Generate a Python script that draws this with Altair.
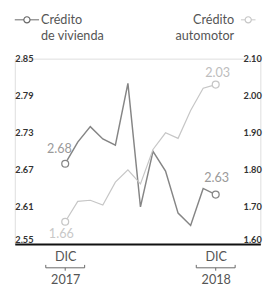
import altair as alt
import pandas as pd

# ---- data ----
months = list(range(13))  # DIC 2017 ... DIC 2018
vivienda = [2.68, 2.715, 2.74, 2.72, 2.71, 2.81, 2.61, 2.70, 2.668, 2.60, 2.58, 2.64, 2.63]
automotor = [1.66, 1.715, 1.718, 1.705, 1.767, 1.80, 1.762, 1.855, 1.90, 1.885, 1.96, 2.02, 2.03]
tick_idx = [0, 12]
tick_month = ["DIC", "DIC"]
tick_year = ["2017", "2018"]
left_ticks = [2.55, 2.61, 2.67, 2.73, 2.79, 2.85]
right_ticks = [1.60, 1.70, 1.80, 1.90, 2.00, 2.10]
legend_viv = ["Crédito", "de vivienda"]
legend_auto = ["Crédito", "automotor"]

DARK = "#858585"
LIGHT = "#c6c6c6"
TXT = "#555555"
FONT = "Lato"

df = pd.DataFrame({"idx": months, "viv": vivienda, "auto": automotor})
df_b = pd.DataFrame({"idx": tick_idx})

label_expr = " : ".join(
    f"datum.value == {i} ? ['{m}', '{y}']" for i, m, y in zip(tick_idx, tick_month, tick_year)
) + " : ''"

x_axis = alt.Axis(
    values=tick_idx, labelExpr=label_expr, title=None, grid=False, ticks=False,
    domain=True, domainColor="#111111", domainWidth=2, labelFontSize=13,
    labelColor=TXT, labelFont=FONT, labelPadding=7, labelLineHeight=24,
    labelFlush=False, labelOverlap=False,
)
x_scale = alt.Scale(domain=[-4.02, 15.56], nice=False, zero=False)
X = alt.X("idx:Q", scale=x_scale, axis=x_axis)

axis_common = dict(
    title=None, grid=False, ticks=False, domain=False, format=".2f",
    labelFont=FONT, labelFontWeight="bold", labelFontSize=9.5, labelColor="#333333",
    labelOverlap=False, labelFlush=False,
)
axisL = alt.Axis(
    values=left_ticks, orient="left", labelAlign="left", labelPadding=0,
    labelBaseline={"condition": {"test": "datum.value < 2.56", "value": "bottom"}, "value": "middle"},
    **axis_common,
)
axisR = alt.Axis(
    values=right_ticks, orient="right", labelAlign="right", labelPadding=1,
    labelBaseline={"condition": {"test": "datum.value < 1.61", "value": "bottom"}, "value": "middle"},
    **axis_common,
)

# ---- vivienda (left axis) ----
baseA = alt.Chart(df).encode(
    x=X,
    y=alt.Y("viv:Q", scale=alt.Scale(domain=[2.55, 2.85], nice=False, zero=False), axis=axisL),
)
lineA = baseA.mark_line(color=DARK, strokeWidth=1.5)
ptA = baseA.mark_point(shape="circle", filled=True, fill="white", stroke=DARK,
                       strokeWidth=1.3, size=50, opacity=1).transform_filter(
    "datum.idx == 0 || datum.idx == 12")
txtA0 = baseA.mark_text(dx=-6, dy=-15, fontSize=13, color="#9a9a9a", font=FONT).encode(
    text=alt.Text("viv:Q", format=".2f")).transform_filter("datum.idx == 0")
txtA1 = baseA.mark_text(dx=1, dy=-17, fontSize=13, color="#9a9a9a", font=FONT).encode(
    text=alt.Text("viv:Q", format=".2f")).transform_filter("datum.idx == 12")
groupA = alt.layer(lineA, ptA, txtA0, txtA1)

# ---- automotor (right axis) ----
baseB = alt.Chart(df).encode(
    x=X,
    y=alt.Y("auto:Q", scale=alt.Scale(domain=[1.60, 2.10], nice=False, zero=False), axis=axisR),
)
lineB = baseB.mark_line(color=LIGHT, strokeWidth=1.2)
ptB = baseB.mark_point(shape="circle", filled=True, fill="white", stroke=LIGHT,
                       strokeWidth=1.3, size=50, opacity=1).transform_filter(
    "datum.idx == 0 || datum.idx == 12")
txtB0 = baseB.mark_text(dx=-4, dy=13, fontSize=13, color="#c8c8c8", font=FONT).encode(
    text=alt.Text("auto:Q", format=".2f")).transform_filter("datum.idx == 0")
txtB1 = baseB.mark_text(dx=2, dy=-12, fontSize=13, color="#bdbdbd", font=FONT).encode(
    text=alt.Text("auto:Q", format=".2f")).transform_filter("datum.idx == 12")
groupB = alt.layer(lineB, ptB, txtB0, txtB1)

# ---- brackets under the DIC labels ----
bb = alt.Chart(df_b).transform_calculate(xs="datum.idx - 1.55", xe="datum.idx + 1.55")
br_h = bb.mark_rule(color="#666666", strokeWidth=1).encode(
    x=alt.X("xs:Q", scale=x_scale, axis=x_axis), x2="xe:Q", y=alt.value(215.5))
br_l = bb.mark_rule(color="#666666", strokeWidth=1).encode(
    x=alt.X("xs:Q", scale=x_scale, axis=x_axis), y=alt.value(212.5), y2=alt.value(215.5))
br_r = bb.mark_rule(color="#666666", strokeWidth=1).encode(
    x=alt.X("xe:Q", scale=x_scale, axis=x_axis), y=alt.value(212.5), y2=alt.value(215.5))
br_c = bb.mark_rule(color="#666666", strokeWidth=1).encode(
    x=alt.X("idx:Q", scale=x_scale, axis=x_axis), y=alt.value(215.5), y2=alt.value(218.5))

# ---- legend ----
one = alt.Data(values=[{}])
def txt(t, x, y, align):
    return alt.Chart(one).mark_text(text=t, align=align, baseline="middle", fontSize=13,
                                    font=FONT, color=TXT).encode(x=alt.value(x), y=alt.value(y))

leg = [
    txt(legend_viv[0], 27, -40, "left"),
    txt(legend_viv[1], 27, -23, "left"),
    txt(legend_auto[0], 226, -40, "right"),
    txt(legend_auto[1], 226, -23, "right"),
    alt.Chart(one).mark_rule(color="#666666", strokeWidth=1).encode(
        x=alt.value(0), x2=alt.value(25), y=alt.value(-40)),
    alt.Chart(one).mark_point(shape="circle", filled=True, fill="white", stroke="#666666",
                              strokeWidth=1.2, size=40, opacity=1).encode(
        x=alt.value(12.5), y=alt.value(-40)),
    alt.Chart(one).mark_rule(color=LIGHT, strokeWidth=1).encode(
        x=alt.value(233), x2=alt.value(248), y=alt.value(-40)),
    alt.Chart(one).mark_point(shape="circle", filled=True, fill="white", stroke=LIGHT,
                              strokeWidth=1.2, size=40, opacity=1).encode(
        x=alt.value(240.5), y=alt.value(-40)),
]

chart = alt.layer(groupA, groupB, br_h, br_l, br_r, br_c, *leg).resolve_scale(
    y="independent"
).properties(
    width=253, height=191,
    autosize=alt.AutoSizeParams(type="none"),
    padding={"left": 7, "top": 48, "right": 12, "bottom": 37},
    background="white",
).configure_view(stroke=None).configure(font=FONT)

chart.save("out.html", embed_options={"renderer": "svg", "actions": False})
